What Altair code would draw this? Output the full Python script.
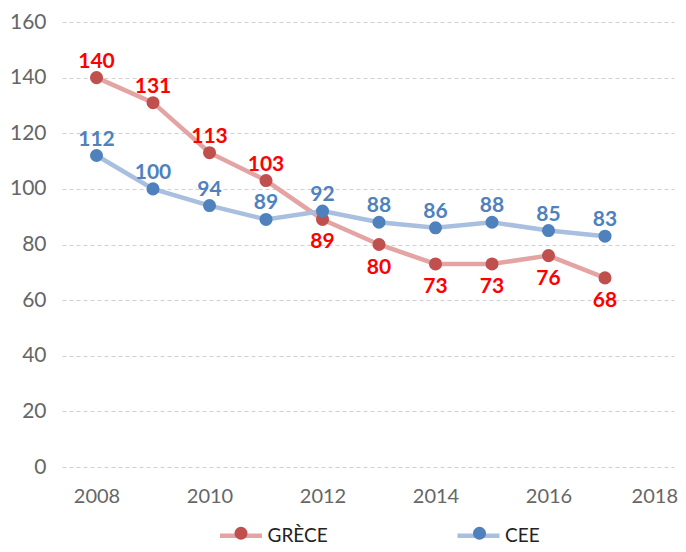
import altair as alt
import pandas as pd

years = [2008, 2009, 2010, 2011, 2012, 2013, 2014, 2015, 2016, 2017]
greece = [140, 131, 113, 103, 89, 80, 73, 73, 76, 68]
cee = [112, 100, 94, 89, 92, 88, 86, 88, 85, 83]
series_names = ["GRÈCE", "CEE"]
x_ticks = [2008, 2010, 2012, 2014, 2016, 2018]
y_ticks = [0, 20, 40, 60, 80, 100, 120, 140, 160]

line_colors = ["#E3A4A3", "#A8BFDF"]
dot_colors = ["#C0504D", "#4F81BD"]
label_colors = ["#FF0000", "#4F81BD"]

rows = []
for y, g, c in zip(years, greece, cee):
    rows.append({"year": y, "value": g, "series": "GRÈCE", "dot": "GRÈCE",
                 "pos": "above" if g > c else "below"})
    rows.append({"year": y, "value": c, "series": "CEE", "dot": "CEE", "pos": "above"})
df = pd.DataFrame(rows)

FONT = "Lato"

x = alt.X("year:Q", scale=alt.Scale(domain=[2007.389, 2018.221], nice=False, zero=False),
          axis=alt.Axis(values=x_ticks, format="d", grid=False, ticks=False, domain=False,
                        labelFontSize=20, labelColor="#666666", labelFont=FONT, labelPadding=19,
                        labelFlush=20, labelFlushOffset=16, title=None))
y = alt.Y("value:Q", scale=alt.Scale(domain=[0, 160], nice=False),
          axis=alt.Axis(values=y_ticks, grid=True, gridDash=[4, 3], gridColor="#D0D0D0",
                        domain=False, ticks=False, labelFontSize=21, labelColor="#666666",
                        labelFont=FONT, labelPadding=16, title=None))

LEG_X = 155.5
LEG_Y = 490
color = alt.Color("series:N", scale=alt.Scale(domain=series_names, range=line_colors),
                  legend=alt.Legend(orient="none", legendX=LEG_X, legendY=LEG_Y, direction="horizontal",
                                    title=None, symbolType="stroke", symbolSize=1764,
                                    symbolStrokeWidth=4.5, labelFont=FONT, labelFontSize=19,
                                    labelColor="#222222", labelOffset=3, columnPadding=119.5))
fill = alt.Fill("dot:N", sort=series_names, scale=alt.Scale(range=dot_colors),
                legend=alt.Legend(orient="none", legendX=LEG_X + 16.5, legendY=LEG_Y + 14,
                                  direction="horizontal",
                                  title=None, symbolType="circle", symbolSize=170,
                                  symbolStrokeWidth=0, labelExpr="''", labelOffset=0,
                                  columnPadding=224.5))

layers = []
for i, s in enumerate(series_names):
    sub = alt.Chart(df).transform_filter(alt.datum.series == s)
    layers.append(sub.mark_line(strokeWidth=4.5).encode(x=x, y=y, color=color))
    layers.append(sub.mark_circle(size=170, opacity=1).encode(x=x, y=y, fill=fill))

for i, s in enumerate(series_names):
    sub = alt.Chart(df).transform_filter(alt.datum.series == s)
    layers.append(sub.transform_filter(alt.datum.pos == "above").mark_text(
        dy=-10, baseline="alphabetic", font=FONT, fontSize=21, fontWeight="bold",
        color=label_colors[i]).encode(x=x, y=y, text="value:Q"))
    layers.append(sub.transform_filter(alt.datum.pos == "below").mark_text(
        dy=29, baseline="alphabetic", font=FONT, fontSize=21, fontWeight="bold",
        color=label_colors[i]).encode(x=x, y=y, text="value:Q"))

chart = alt.layer(*layers).properties(
    width=612, height=445,
    autosize=alt.AutoSizeParams(type="none"),
    padding={"left": 54, "top": 14, "right": 4, "bottom": 77},
    background="white",
).configure_view(stroke=None)

chart.save("out.html", embed_options={"renderer": "svg", "actions": False})
